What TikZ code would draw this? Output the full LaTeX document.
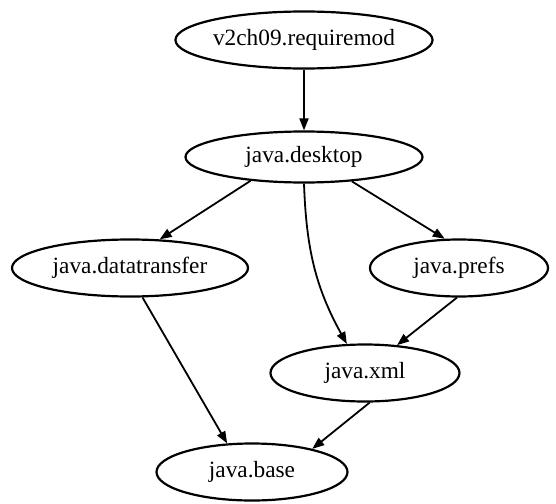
\documentclass[tikz,border=0pt]{standalone}
\usepackage{fontspec}
\setmainfont{Liberation Serif}
\usetikzlibrary{shapes.geometric,arrows.meta}
\begin{document}
\begin{tikzpicture}[x=1pt,y=-1pt,
  mod/.style={draw, ellipse, line width=2.2pt, inner sep=0pt,
    font=\fontsize{23.3}{26}\selectfont, minimum height=57pt},
  dep/.style={line width=1.8pt, -{Triangle[length=12pt,width=9pt]}}]
\useasboundingbox (0,0) rectangle (556,503);
\node[mod, minimum width=238pt] (top) at (304,40) {v2ch09.requiremod};
\node[mod, minimum width=237pt, minimum height=51pt] (desk) at (304,157) {java.desktop};
\node[mod, minimum width=236pt] (dt) at (130,268) {java.datatransfer};
\node[mod, minimum width=178pt] (prefs) at (459,268) {java.prefs};
\node[mod, minimum width=189pt] (xml) at (365,373) {java.xml};
\node[mod, minimum width=191pt] (base) at (252,472) {java.base};
\draw[dep] (top.south) -- (desk.north);
\draw[dep] (desk.204) -- (dt.44);
\draw[dep] (desk.333) -- (prefs.116);
\draw[dep] (desk.270) to[out=-88, in=119] (xml.122);
\draw[dep] (prefs.266) -- (xml.41);
\draw[dep] (dt.293) -- (base.131);
\draw[dep] (xml.279) -- (base.21);
\end{tikzpicture}
\end{document}
